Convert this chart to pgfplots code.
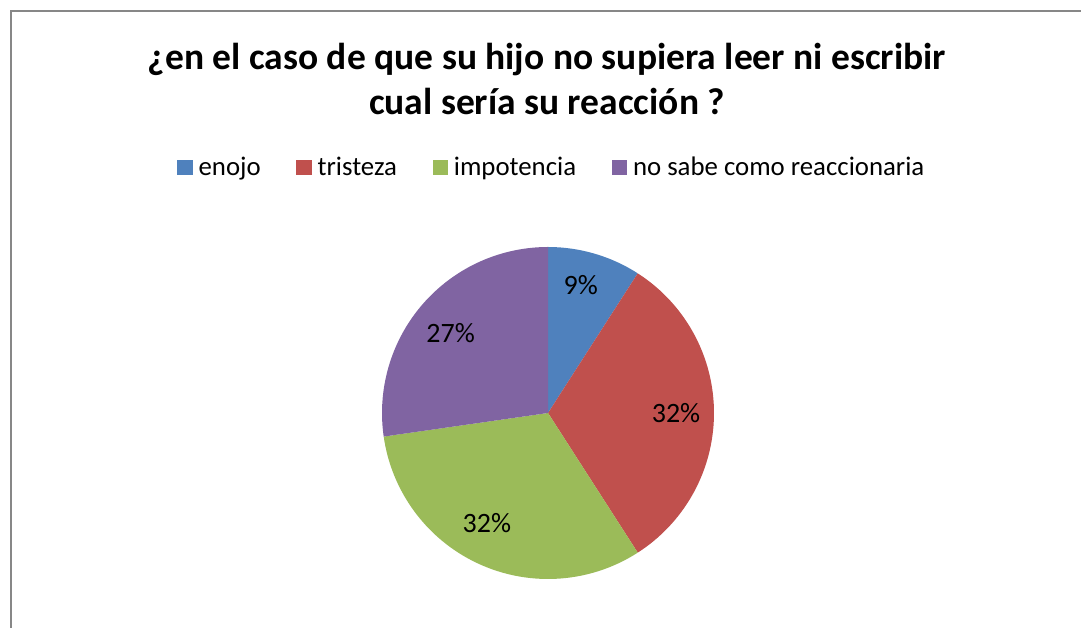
\documentclass[border=0pt]{standalone}
\usepackage{fontspec}
\setmainfont{Carlito}
\usepackage{pgfplots}
\pgfplotsset{compat=1.18}
\usepackage{pgfplotstable}
\definecolor{c1}{HTML}{4F81BD}
\definecolor{c2}{HTML}{C0504D}
\definecolor{c3}{HTML}{9BBB59}
\definecolor{c4}{HTML}{8064A2}
\definecolor{frame}{HTML}{878787}
\pgfplotstableread{
label value
enojo 9.09
tristeza 31.82
impotencia 31.82
nosabe 27.27
}\piedata
\pgfplotsset{sq/.style={legend image code/.code={\fill[#1] (0pt,-7.5pt) rectangle (14.5pt,7pt);}}}
\begin{document}%
\begin{tikzpicture}
\pgfplotstablegetelem{0}{value}\of\piedata \let\va\pgfplotsretval
\pgfplotstablegetelem{1}{value}\of\piedata \let\vb\pgfplotsretval
\pgfplotstablegetelem{2}{value}\of\piedata \let\vc\pgfplotsretval
\pgfplotstablegetelem{3}{value}\of\piedata \let\vd\pgfplotsretval
\pgfmathsetmacro\aA{90}
\pgfmathsetmacro\aB{\aA-3.6*\va}
\pgfmathsetmacro\aC{\aB-3.6*\vb}
\pgfmathsetmacro\aD{\aC-3.6*\vc}
\pgfmathsetmacro\aE{\aD-3.6*\vd}
\useasboundingbox (0,0) rectangle (1081pt,628pt);
\begin{axis}[
  anchor=origin, at={(0pt,0pt)},
  x=1pt, y=1pt, xmin=0, xmax=1081, ymin=0, ymax=628,
  hide axis, clip=false,
  legend columns=-1,
  legend style={at={(axis cs:554,461)}, anchor=center, draw=none, fill=none,
    font=\fontsize{26.8}{32}\selectfont,
    /tikz/every even column/.append style={column sep=29pt},
    nodes={inner xsep=6.5pt}},
  legend cell align=left,
]
\addlegendimage{sq=c1}\addlegendentry{enojo}
\addlegendimage{sq=c2}\addlegendentry{tristeza}
\addlegendimage{sq=c3}\addlegendentry{impotencia}
\addlegendimage{sq=c4}\addlegendentry{no sabe como reaccionaria}
\fill[c1] (axis cs:548,215) -- ++(\aA:166pt) arc[start angle=\aA, end angle=\aB, radius=166pt] -- cycle;
\fill[c2] (axis cs:548,215) -- ++(\aB:166pt) arc[start angle=\aB, end angle=\aC, radius=166pt] -- cycle;
\fill[c3] (axis cs:548,215) -- ++(\aC:166pt) arc[start angle=\aC, end angle=\aD, radius=166pt] -- cycle;
\fill[c4] (axis cs:548,215) -- ++(\aD:166pt) arc[start angle=\aD, end angle=\aE, radius=166pt] -- cycle;
\path[font=\fontsize{28}{32}\selectfont] (axis cs:548,215) ++({(\aA+\aB)/2+2}:132pt) node {9\%};
\path[font=\fontsize{28}{32}\selectfont] (axis cs:548,215) ++({(\aB+\aC)/2}:128pt) node {32\%};
\path[font=\fontsize{28}{32}\selectfont] (axis cs:548,215) ++({(\aC+\aD)/2-4.5}:126pt) node {32\%};
\path[font=\fontsize{28}{32}\selectfont] (axis cs:548,215) ++({(\aD+\aE)/2+1.5}:126pt) node {27\%};
\node[font=\fontsize{37.5}{45}\selectfont\bfseries, align=center] at (axis cs:547,549) {¿en el caso de que su hijo no supiera leer ni escribir\\cual sería su reacción ?};
\draw[frame, line width=2.2pt] (axis cs:11,-5) -- (axis cs:11,617) -- (axis cs:1090,617);
\end{axis}
\end{tikzpicture}%
\end{document}
